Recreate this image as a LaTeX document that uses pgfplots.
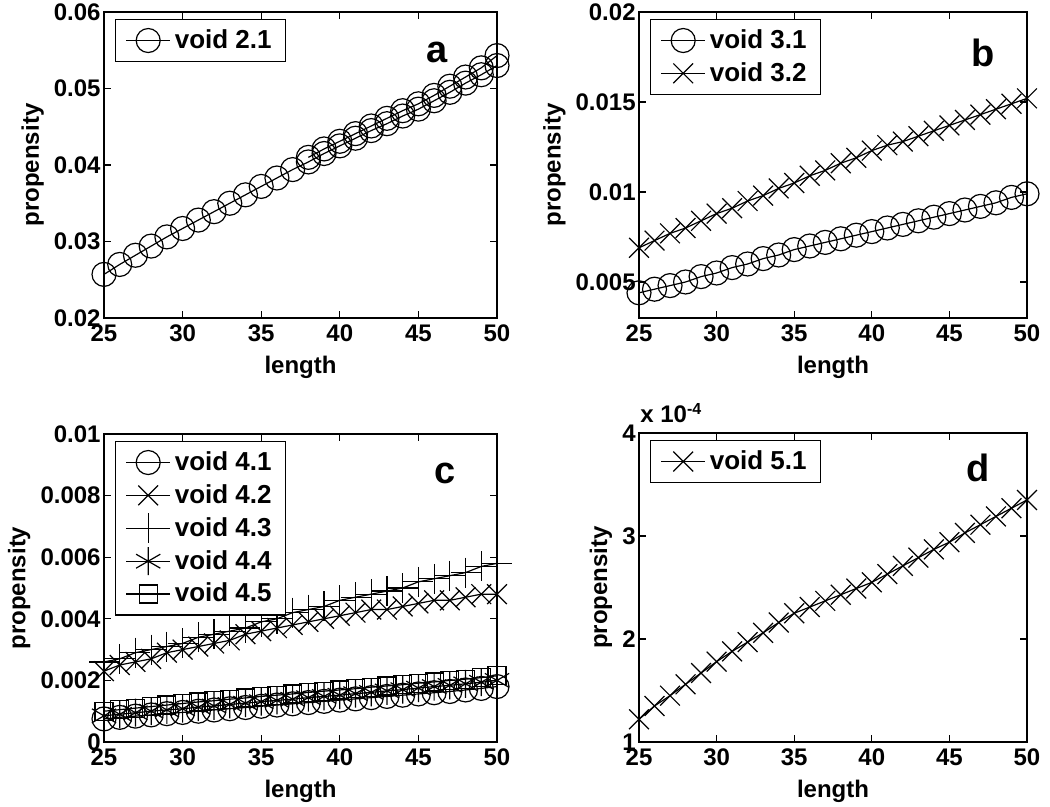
\documentclass[border=0pt]{standalone}
\usepackage{fontspec}
\setmainfont{Liberation Sans}
\usepackage{pgfplots}
\pgfplotsset{compat=1.18}

\pgfplotsset{
  matlab/.style={
    scale only axis,
    anchor=south west,
    xmin=25, xmax=50,
    xtick={25,30,...,50},
    scaled y ticks=false,
    tick align=inside,
    major tick length=3.5pt,
    axis line style={line width=0.8pt},
    every tick/.style={black, line width=0.6pt},
    tick label style={font=\fontsize{12}{14}\selectfont\bfseries},
    yticklabel style={inner sep=1.5pt},
    label style={font=\fontsize{12}{14}\selectfont\bfseries},
    /pgf/number format/assume math mode=true,
    xlabel={length}, ylabel={propensity},
    clip=false,
    legend cell align=left,
    legend style={at={(0,1)}, anchor=north west, xshift=5.5pt, yshift=-3.5pt,
      draw=black, line width=0.6pt, row sep=1.5pt, inner ysep=3pt, inner xsep=5pt,
      font=\fontsize{13}{15}\selectfont\bfseries},
    legend image code/.code={\draw[mark repeat=2,mark phase=2,#1]
      plot coordinates {(0pt,0pt) (11pt,0pt) (22pt,0pt)};},
    every axis plot/.append style={black, line width=0.6pt, mark size=6pt,
      mark options={line width=0.6pt}},
  },
}
\tikzset{panel/.style={font=\fontsize{19}{20}\selectfont\bfseries, anchor=base east}}

\begin{document}
\begin{tikzpicture}
\useasboundingbox (0,0) rectangle (525pt,-403.5pt);

% ---- a ----
\begin{axis}[matlab, at={(52pt,-159pt)}, width=196.5pt, height=153pt,
  ymin=0.02, ymax=0.06, ytick={0.02,0.03,0.04,0.05,0.06},
  yticklabels={0.02,0.03,0.04,0.05,0.06}]
\addplot[mark=o] coordinates {
  (25,0.0257)(26,0.0270)(27,0.0282)(28,0.0294)(29,0.0306)(30,0.0317)
  (31,0.0328)(32,0.0339)(33,0.0350)(34,0.0361)(35,0.0372)(36,0.0383)
  (37,0.0394)(38,0.0404)(39,0.0415)(40,0.0425)(41,0.0435)(42,0.0445)
  (43,0.0454)(44,0.0464)(45,0.0473)(46,0.0484)(47,0.0495)(48,0.0507)
  (49,0.0518)(50,0.0530)};
\addlegendentry{void 2.1}
\addplot[mark=o, forget plot] coordinates {
  (38,0.0410)(39,0.0421)(40,0.0431)(41,0.0441)(42,0.0451)(43,0.0461)
  (44,0.0471)(45,0.0480)(46,0.0491)(47,0.0503)(48,0.0515)(49,0.0527)
  (50,0.0543)};
\node[panel] at (rel axis cs:1,1) [xshift=-21pt, yshift=-25pt] {a};
\end{axis}

% ---- b ----
\begin{axis}[matlab, at={(319.5pt,-159pt)}, width=194pt, height=153pt,
  ymin=0.003, ymax=0.02, ytick={0.005,0.01,0.015,0.02},
  yticklabels={0.005,0.01,0.015,0.02}]
\addplot[mark=o] coordinates {
  (25,0.0044)(26,0.0046)(27,0.0048)(28,0.0050)(29,0.0053)(30,0.0055)
  (31,0.0058)(32,0.0060)(33,0.0063)(34,0.0065)(35,0.0068)(36,0.0070)
  (37,0.0072)(38,0.0074)(39,0.0076)(40,0.0078)(41,0.0080)(42,0.0082)
  (43,0.0084)(44,0.0086)(45,0.0088)(46,0.0090)(47,0.0092)(48,0.0094)
  (49,0.0097)(50,0.0099)};
\addlegendentry{void 3.1}
\addplot[mark=x, mark size=7pt] coordinates {
  (25,0.0069)(26,0.0073)(27,0.0077)(28,0.0080)(29,0.0084)(30,0.0088)
  (31,0.0091)(32,0.0095)(33,0.0098)(34,0.0102)(35,0.0105)(36,0.0109)
  (37,0.0112)(38,0.0116)(39,0.0119)(40,0.0123)(41,0.0126)(42,0.0128)
  (43,0.0131)(44,0.0134)(45,0.0137)(46,0.0140)(47,0.0143)(48,0.0146)
  (49,0.0149)(50,0.0152)};
\addlegendentry{void 3.2}
\node[panel] at (rel axis cs:1,1) [xshift=-12.5pt, yshift=-27.5pt] {b};
\end{axis}

% ---- c ----
\begin{axis}[matlab, at={(52pt,-371pt)}, width=196.5pt, height=154pt,
  ymin=0, ymax=0.01, ytick={0,0.002,0.004,0.006,0.008,0.01},
  yticklabels={0,0.002,0.004,0.006,0.008,0.01}]
\addplot[mark=o] coordinates {
  (25,0.00075)(26,0.00080)(27,0.00084)(28,0.00088)(29,0.00092)(30,0.00096)
  (31,0.00100)(32,0.00104)(33,0.00108)(34,0.00112)(35,0.00116)(36,0.00120)
  (37,0.00124)(38,0.00128)(39,0.00132)(40,0.00136)(41,0.00140)(42,0.00144)
  (43,0.00148)(44,0.00152)(45,0.00156)(46,0.00160)(47,0.00164)(48,0.00169)
  (49,0.00174)(50,0.00180)};
\addlegendentry{void 4.1}
\addplot[mark=x, mark size=7pt] coordinates {
  (25,0.0023)(26,0.0025)(27,0.0026)(28,0.0027)(29,0.0029)(30,0.0030)
  (31,0.0031)(32,0.0032)(33,0.0033)(34,0.0035)(35,0.0036)(36,0.0037)
  (37,0.0038)(38,0.0039)(39,0.0040)(40,0.0041)(41,0.0042)(42,0.0043)
  (43,0.0043)(44,0.0044)(45,0.0045)(46,0.0046)(47,0.0046)(48,0.0047)
  (49,0.0048)(50,0.0048)};
\addlegendentry{void 4.2}
\addplot[mark=+, mark size=7.5pt] coordinates {
  (25,0.0026)(26,0.0027)(27,0.0029)(28,0.0030)(29,0.0031)(30,0.0032)
  (31,0.0034)(32,0.0035)(33,0.0036)(34,0.0037)(35,0.0039)(36,0.0040)
  (37,0.0042)(38,0.0043)(39,0.0044)(40,0.0046)(41,0.0047)(42,0.0048)
  (43,0.0049)(44,0.0050)(45,0.0052)(46,0.0053)(47,0.0054)(48,0.0055)
  (49,0.0057)(50,0.0058)};
\addlegendentry{void 4.3}
\addplot[mark=asterisk, mark size=7pt] coordinates {
  (25,0.00085)(26,0.00090)(27,0.00095)(28,0.00100)(29,0.00104)(30,0.00108)
  (31,0.00113)(32,0.00117)(33,0.00122)(34,0.00126)(35,0.00131)(36,0.00135)
  (37,0.00139)(38,0.00144)(39,0.00148)(40,0.00152)(41,0.00157)(42,0.00161)
  (43,0.00166)(44,0.00170)(45,0.00175)(46,0.00180)(47,0.00184)(48,0.00189)
  (49,0.00194)(50,0.00200)};
\addlegendentry{void 4.4}
\addplot[mark=square, mark size=4.5pt] coordinates {
  (25,0.00100)(26,0.00105)(27,0.00110)(28,0.00115)(29,0.00120)(30,0.00125)
  (31,0.00130)(32,0.00134)(33,0.00139)(34,0.00143)(35,0.00148)(36,0.00152)
  (37,0.00156)(38,0.00161)(39,0.00165)(40,0.00169)(41,0.00173)(42,0.00178)
  (43,0.00182)(44,0.00186)(45,0.00191)(46,0.00195)(47,0.00200)(48,0.00204)
  (49,0.00209)(50,0.00215)};
\addlegendentry{void 4.5}
\node[panel] at (rel axis cs:1,1) [xshift=-17pt, yshift=-24.5pt] {c};
\end{axis}

% ---- d ----
\begin{axis}[matlab, at={(319.5pt,-371pt)}, width=194pt, height=154.5pt,
  ymin=1e-4, ymax=4e-4, ytick={1e-4,2e-4,3e-4,4e-4},
  yticklabels={1,2,3,4}]
\addplot[mark=x, mark size=7pt] coordinates {
  (25,1.22e-4)(26,1.35e-4)(27,1.45e-4)(28,1.56e-4)(29,1.67e-4)(30,1.78e-4)
  (31,1.88e-4)(32,1.97e-4)(33,2.06e-4)(34,2.16e-4)(35,2.25e-4)(36,2.31e-4)
  (37,2.37e-4)(38,2.43e-4)(39,2.49e-4)(40,2.55e-4)(41,2.63e-4)(42,2.71e-4)
  (43,2.79e-4)(44,2.87e-4)(45,2.94e-4)(46,3.03e-4)(47,3.11e-4)(48,3.19e-4)
  (49,3.27e-4)(50,3.35e-4)};
\addlegendentry{void 5.1}
\node[font=\fontsize{12}{14}\selectfont\bfseries, anchor=base west, inner sep=0pt]
  at (rel axis cs:0,1) [xshift=0.5pt, yshift=5pt] {x 10\textsuperscript{-4}};
\node[panel] at (rel axis cs:1,1) [xshift=-15pt, yshift=-24.5pt] {d};
\end{axis}
\end{tikzpicture}
\end{document}
